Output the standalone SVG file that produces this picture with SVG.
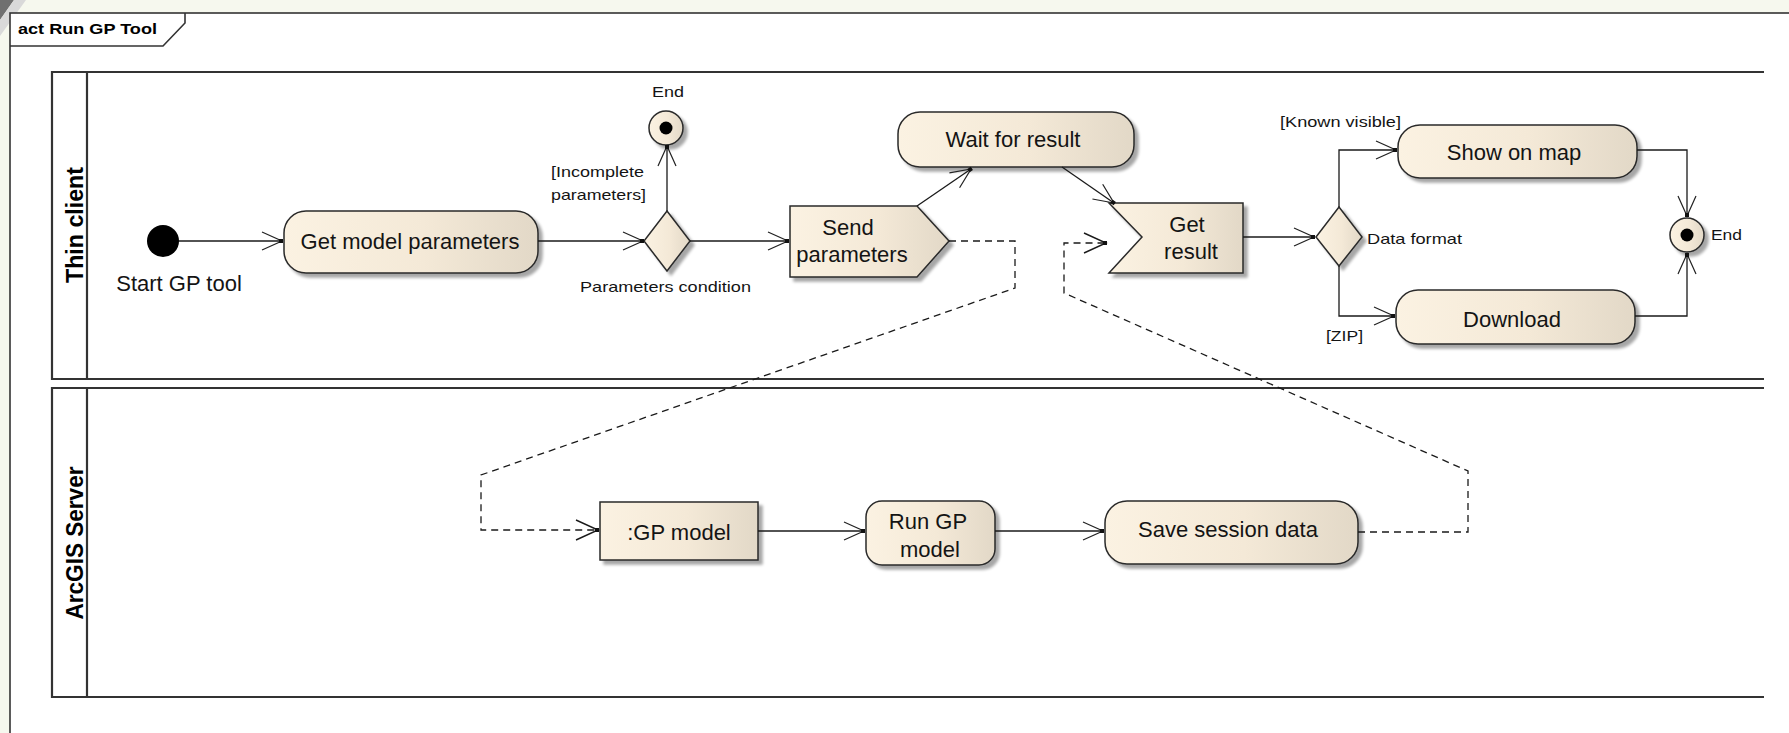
<svg xmlns="http://www.w3.org/2000/svg" width="1789" height="733" viewBox="0 0 1789 733">
<defs>
<linearGradient id="g" x1="0" y1="0" x2="1" y2="0">
<stop offset="0" stop-color="#fbf2e2"/><stop offset="0.55" stop-color="#f4e9d7"/><stop offset="1" stop-color="#e2d8c7"/>
</linearGradient>
<filter id="sh" x="-10%" y="-10%" width="130%" height="140%">
<feGaussianBlur in="SourceAlpha" stdDeviation="1.5"/><feOffset dx="4" dy="4"/>
<feComponentTransfer><feFuncA type="linear" slope="0.35"/></feComponentTransfer>
<feMerge><feMergeNode/><feMergeNode in="SourceGraphic"/></feMerge>
</filter>
<marker id="a" markerUnits="userSpaceOnUse" markerWidth="30" markerHeight="24" viewBox="0 0 30 24" refX="24" refY="12" orient="auto">
<path d="M4,3 L24,12 L4,21" fill="none" stroke="#222" stroke-width="1.2" stroke-dasharray="none"/>
<rect x="21" y="10" width="4" height="4" fill="#111"/>
</marker>
<style>
.n{fill:url(#g);stroke:#2a2a2a;stroke-width:1.5;filter:url(#sh)}
.c{fill:none;stroke:#1a1a1a;stroke-width:1.3;marker-end:url(#a)}
.d{fill:none;stroke:#1a1a1a;stroke-width:1.3;stroke-dasharray:7 5}
.h{fill:none;stroke:#1a1a1a;stroke-width:1.4}
.ln{fill:none;stroke:#333;stroke-width:2.2}
.t{font-family:"Liberation Sans",Arial,sans-serif;font-size:22px;fill:#141414;text-anchor:middle}
.s{font-family:"Liberation Sans",Arial,sans-serif;font-size:15px;fill:#141414}
.lane{font-family:"Liberation Sans",Arial,sans-serif;font-weight:bold;font-size:24px;fill:#000;text-anchor:middle}
</style>
</defs>
<rect x="0" y="0" width="1789" height="733" fill="#f6f8ee"/>
<polygon points="0,0 14,0 0,20" fill="#707070"/>
<polygon points="14,0 26,0 0,36 0,20" fill="#d9d9d9"/>
<g id="frame">
<rect x="10" y="13" width="1800" height="760" fill="#fff" stroke="#333" stroke-width="1.6"/>
<path d="M10,46 L163,46 L185,23 L185,13" fill="none" stroke="#333" stroke-width="1.6"/>
<text x="18" y="34" font-family="Liberation Sans,Arial,sans-serif" font-weight="bold" font-size="15" fill="#000" textLength="139" lengthAdjust="spacingAndGlyphs">act Run GP Tool</text>
</g>
<g id="lane-thin-client">
<path class="ln" d="M1764,72 L52,72 L52,379 L1764,379 M87,72 L87,379"/>
<text class="lane" transform="translate(83,225) rotate(-90)" textLength="116" lengthAdjust="spacingAndGlyphs">Thin client</text>
</g>
<g id="lane-arcgis-server">
<path class="ln" d="M1764,388 L52,388 L52,697 L1764,697 M87,388 L87,697"/>
<text class="lane" transform="translate(83,543) rotate(-90)" textLength="153" lengthAdjust="spacingAndGlyphs">ArcGIS Server</text>
</g>
<g id="start">
<circle cx="163" cy="241" r="16" fill="#000"/>
<text class="t" x="179" y="291">Start GP tool</text>
</g>
<g id="get-model-parameters">
<rect class="n" x="284" y="211" width="254" height="62" rx="22"/>
<text class="t" x="410" y="249">Get model parameters</text>
</g>
<g id="parameters-condition">
<polygon class="n" points="667,211 690,241 667,271 644,241"/>
<text class="s" x="580" y="292" textLength="171" lengthAdjust="spacingAndGlyphs">Parameters condition</text>
<text class="s" x="551" y="177" textLength="93" lengthAdjust="spacingAndGlyphs">[Incomplete</text>
<text class="s" x="551" y="200" textLength="95" lengthAdjust="spacingAndGlyphs">parameters]</text>
</g>
<g id="end-1">
<circle class="n" cx="666" cy="128" r="17"/>
<circle cx="666" cy="128" r="6.5" fill="#000"/>
<text class="s" x="652" y="97" textLength="32" lengthAdjust="spacingAndGlyphs">End</text>
</g>
<g id="send-parameters">
<polygon class="n" points="790,206 917,206 949,241 917,277 790,277"/>
<text class="t" x="848" y="235">Send</text>
<text class="t" x="852" y="262">parameters</text>
</g>
<g id="wait-for-result">
<rect class="n" x="898" y="112" width="236" height="55" rx="22"/>
<text class="t" x="1013" y="147">Wait for result</text>
</g>
<g id="get-result">
<polygon class="n" points="1109,203 1243,203 1243,273 1109,273 1142,237"/>
<text class="t" x="1187" y="232">Get</text>
<text class="t" x="1191" y="259">result</text>
</g>
<g id="data-format">
<polygon class="n" points="1339,207 1362,237 1339,266 1316,237"/>
<text class="s" x="1367" y="244" textLength="95" lengthAdjust="spacingAndGlyphs">Data format</text>
<text class="s" x="1280" y="127" textLength="121" lengthAdjust="spacingAndGlyphs">[Known visible]</text>
<text class="s" x="1326" y="341" textLength="37" lengthAdjust="spacingAndGlyphs">[ZIP]</text>
</g>
<g id="show-on-map">
<rect class="n" x="1398" y="125" width="239" height="53" rx="22"/>
<text class="t" x="1514" y="160">Show on map</text>
</g>
<g id="download">
<rect class="n" x="1396" y="290" width="239" height="54" rx="22"/>
<text class="t" x="1512" y="327">Download</text>
</g>
<g id="end-2">
<circle class="n" cx="1687" cy="235" r="17"/>
<circle cx="1687" cy="235" r="6.5" fill="#000"/>
<text class="s" x="1711" y="240" textLength="31" lengthAdjust="spacingAndGlyphs">End</text>
</g>
<g id="gp-model">
<rect class="n" x="600" y="502" width="158" height="58"/>
<text class="t" x="679" y="540">:GP model</text>
</g>
<g id="run-gp-model">
<rect class="n" x="866" y="501" width="129" height="64" rx="16"/>
<text class="t" x="928" y="529">Run GP</text>
<text class="t" x="930" y="557">model</text>
</g>
<g id="save-session-data">
<rect class="n" x="1105" y="501" width="253" height="63" rx="22"/>
<text class="t" x="1228" y="537">Save session data</text>
</g>
<g id="connectors">
<path class="c" d="M179,241 L282,241"/>
<path class="c" d="M538,241 L643,241"/>
<path class="c" d="M690,241 L788,241"/>
<path class="c" d="M667,211 L667,146"/>
<path class="c" d="M917,206 L971,169"/>
<path class="c" d="M1062,167 L1114,203"/>
<path class="c" d="M1243,237 L1314,237"/>
<path class="c" d="M1339,207 L1339,150 L1396,150"/>
<path class="c" d="M1339,266 L1339,316 L1394,316"/>
<path class="c" d="M1637,150 L1687,150 L1687,216"/>
<path class="c" d="M1635,316 L1687,316 L1687,254"/>
<path class="d" d="M949,241 L1015,241 L1015,288 L481,475 L481,530 L598,530"/>
<path class="h" d="M576,520 L598,530 L576,540"/>
<rect x="595" y="528" width="4" height="4" fill="#111"/>
<path class="c" d="M758,531 L864,531"/>
<path class="c" d="M995,531 L1103,531"/>
<path class="d" d="M1358,532 L1468,532 L1468,471 L1064,293 L1064,243 L1106,243"/>
<path class="h" d="M1084,233 L1106,243 L1084,253"/>
<rect x="1103" y="241" width="4" height="4" fill="#111"/>
</g>
</svg>
